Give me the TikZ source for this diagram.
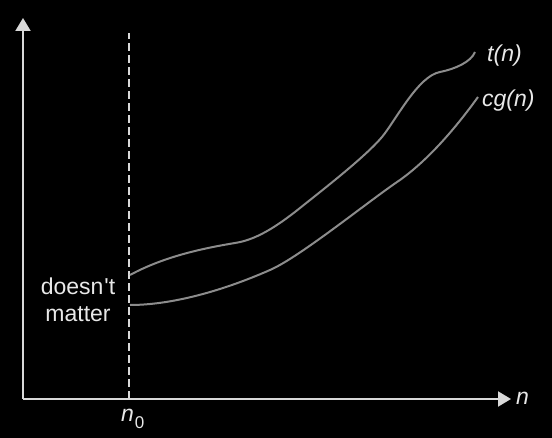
\documentclass[tikz,border=0pt]{standalone}
\usepackage{fontspec}
\setmainfont{Liberation Sans}
\usetikzlibrary{arrows.meta}
\definecolor{axisc}{HTML}{D9D9D9}
\definecolor{curvec}{HTML}{8C8C8C}
\definecolor{textc}{HTML}{E8E8E8}
\tikzset{
  axis/.style={draw=axisc, line width=2pt, -{Triangle[length=13pt,width=15pt]}},
  curve/.style={draw=curvec, line width=2pt},
  lbl/.style={text=textc, font=\fontsize{23}{27}\selectfont, inner sep=0pt},
  dashline/.style={draw=axisc, line width=1.8pt, dash pattern=on 8pt off 4pt}
}
\begin{document}
\begin{tikzpicture}[x=1pt,y=-1pt]
\fill[black] (0,0) rectangle (552,438);
\useasboundingbox (0,0) rectangle (552,438);
\coordinate (o) at (23,399);
\coordinate (ytip) at (23,18);
\coordinate (xtip) at (511,399);
\coordinate (dtop) at (129,33);
\coordinate (dbot) at (129,399);
\draw[dashline] (dbot) -- (dtop);
\draw[axis] (o) -- (ytip);
\draw[axis] (o) -- (xtip);
\draw[curve] (130,275) .. controls (165,256) and (205,248) .. (235,243)
  .. controls (255,240) and (275,228) .. (300,208)
  .. controls (325,188) and (365,157) .. (382,137)
  .. controls (396,120) and (418,76) .. (440,72)
  .. controls (455,69) and (471,62) .. (475,52);
\draw[curve] (130,305) .. controls (170,305) and (220,292) .. (270,270)
  .. controls (300,257) and (370,200) .. (400,180)
  .. controls (435,155) and (465,115) .. (478,97);
\node[lbl, anchor=base west] (tn) at (487,62) {\itshape t(n)};
\node[lbl, anchor=base west] (cgn) at (482,107) {\itshape cg(n)};
\node[lbl, anchor=base west] (nlab) at (516,405) {\itshape n};
\node[lbl, anchor=base west] (n0) at (121,422) {\itshape n\kern1pt\raisebox{-6pt}{\upshape\fontsize{17}{17}\selectfont 0}};
\node[lbl, anchor=base] (dm1) at (78,295) {doesn\kern1pt\textquotesingle t};
\node[lbl, anchor=base] (dm2) at (78,322) {matter};
\end{tikzpicture}
\end{document}
